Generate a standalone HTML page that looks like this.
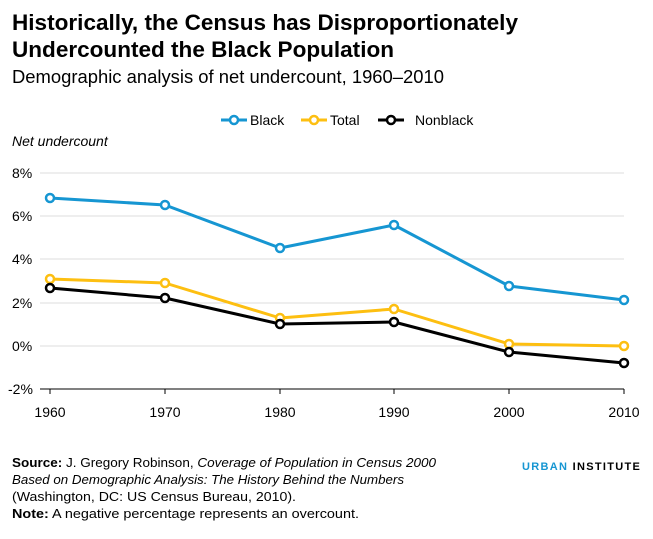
<!DOCTYPE html>
<html><head><meta charset="utf-8"><style>
body{margin:0;background:#fff}
svg{display:block;font-family:"Liberation Sans",sans-serif}
</style></head><body>
<svg width="653" height="539" viewBox="0 0 653 539" xmlns="http://www.w3.org/2000/svg">
<text x="12" y="30" font-size="22" font-weight="bold" fill="#000" textLength="506" lengthAdjust="spacingAndGlyphs">Historically, the Census has Disproportionately</text>
<text x="12" y="57" font-size="22" font-weight="bold" fill="#000" textLength="382" lengthAdjust="spacingAndGlyphs">Undercounted the Black Population</text>
<text x="12" y="83" font-size="18" fill="#000" textLength="432" lengthAdjust="spacingAndGlyphs">Demographic analysis of net undercount, 1960–2010</text>
<g font-size="14" fill="#000">
<line x1="221" y1="120" x2="247" y2="120" stroke="#1696d2" stroke-width="3"/><circle cx="234" cy="120" r="4" fill="#fff" stroke="#1696d2" stroke-width="2.5"/>
<text x="250" y="125">Black</text>
<line x1="301" y1="120" x2="327" y2="120" stroke="#fdbf11" stroke-width="3"/><circle cx="314" cy="120" r="4" fill="#fff" stroke="#fdbf11" stroke-width="2.5"/>
<text x="330" y="125">Total</text>
<line x1="304" y1="0" x2="304" y2="0"/>
<line x1="378" y1="120" x2="404" y2="120" stroke="#000" stroke-width="3"/><circle cx="391" cy="120" r="4" fill="#fff" stroke="#000" stroke-width="2.5"/>
<text x="415" y="125">Nonblack</text>
</g>
<text x="12" y="146" font-size="14" font-style="italic">Net undercount</text>
<g stroke="#dedddd" stroke-width="1">
<line x1="40" y1="173" x2="624" y2="173"/>
<line x1="40" y1="216" x2="624" y2="216"/>
<line x1="40" y1="259" x2="624" y2="259"/>
<line x1="40" y1="303" x2="624" y2="303"/>
<line x1="40" y1="346" x2="624" y2="346"/>
</g>
<line x1="40" y1="389" x2="624" y2="389" stroke="#000" stroke-width="1"/>
<g stroke="#000"><line x1="50" y1="389" x2="50" y2="394"/><line x1="165" y1="389" x2="165" y2="394"/><line x1="280" y1="389" x2="280" y2="394"/><line x1="394" y1="389" x2="394" y2="394"/><line x1="509" y1="389" x2="509" y2="394"/><line x1="624" y1="389" x2="624" y2="394"/></g>
<g font-size="14" fill="#000">
<text x="12" y="178">8%</text><text x="12" y="221">6%</text><text x="12" y="264">4%</text><text x="12" y="308">2%</text><text x="12" y="351">0%</text><text x="8" y="394">-2%</text>
</g>
<g font-size="14" fill="#000" text-anchor="middle">
<text x="50" y="417">1960</text><text x="165" y="417">1970</text><text x="280" y="417">1980</text><text x="394" y="417">1990</text><text x="509" y="417">2000</text><text x="624" y="417">2010</text>
</g>
<g fill="none" stroke-width="3" stroke-linejoin="round">
<polyline stroke="#1696d2" points="50,198 165,205 280,248 394,225 509,286 624,300"/>
<polyline stroke="#fdbf11" points="50,279 165,283 280,318 394,309 509,344 624,346"/>
<polyline stroke="#000" points="50,288 165,298 280,324 394,322 509,352 624,363"/>
</g>
<g fill="#fff" stroke-width="2.5">
<g stroke="#1696d2"><circle cx="50" cy="198" r="4"/><circle cx="165" cy="205" r="4"/><circle cx="280" cy="248" r="4"/><circle cx="394" cy="225" r="4"/><circle cx="509" cy="286" r="4"/><circle cx="624" cy="300" r="4"/></g>
<g stroke="#fdbf11"><circle cx="50" cy="279" r="4"/><circle cx="165" cy="283" r="4"/><circle cx="280" cy="318" r="4"/><circle cx="394" cy="309" r="4"/><circle cx="509" cy="344" r="4"/><circle cx="624" cy="346" r="4"/></g>
<g stroke="#000"><circle cx="50" cy="288" r="4"/><circle cx="165" cy="298" r="4"/><circle cx="280" cy="324" r="4"/><circle cx="394" cy="322" r="4"/><circle cx="509" cy="352" r="4"/><circle cx="624" cy="363" r="4"/></g>
</g>
<g font-size="13" fill="#000">
<text x="12" y="467" textLength="424" lengthAdjust="spacingAndGlyphs"><tspan font-weight="bold">Source:</tspan> J. Gregory Robinson, <tspan font-style="italic">Coverage of Population in Census 2000</tspan></text>
<text x="12" y="484" font-style="italic" textLength="392" lengthAdjust="spacingAndGlyphs">Based on Demographic Analysis: The History Behind the Numbers</text>
<text x="12" y="501" textLength="284" lengthAdjust="spacingAndGlyphs">(Washington, DC: US Census Bureau, 2010).</text>
<text x="12" y="518" textLength="347" lengthAdjust="spacingAndGlyphs"><tspan font-weight="bold">Note:</tspan> A negative percentage represents an overcount.</text>
</g>
<text x="522" y="470" font-size="11" font-weight="bold" letter-spacing="1.3"><tspan fill="#1696d2">URBAN</tspan><tspan fill="#000"> INSTITUTE</tspan></text>
</svg>
</body></html>
